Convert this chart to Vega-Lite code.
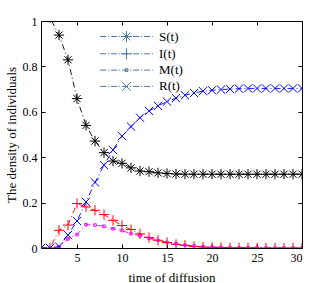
{
  "$schema": "https://vega.github.io/schema/vega-lite/v6.json",
  "width": 261,
  "height": 227,
  "autosize": {"type": "none"},
  "padding": {"left": 41, "top": 21, "right": 29, "bottom": 35},
  "background": "white",
  "config": {
    "font": "Liberation Serif",
    "view": {"stroke": "black", "strokeWidth": 1},
    "axis": {
      "domainColor": "black",
      "tickColor": "black",
      "tickSize": -4,
      "labelColor": "black",
      "titleColor": "black",
      "labelFont": "Liberation Serif",
      "titleFont": "Liberation Serif",
      "labelFontSize": 12,
      "titleFontSize": 13,
      "titleFontWeight": "normal",
      "grid": false
    },
    "legend": {
      "labelFont": "Liberation Serif",
      "labelFontSize": 13,
      "labelColor": "black"
    }
  },
  "data": {
    "values": [
      {"t": 1, "S": 1.03, "I": 0, "M": 0, "R": 0},
      {"t": 2, "S": 1.015, "I": 0, "M": 0, "R": 0},
      {"t": 3, "S": 0.938, "I": 0.078, "M": 0.005, "R": 0.007},
      {"t": 4, "S": 0.829, "I": 0.101, "M": 0.04, "R": 0.057},
      {"t": 5, "S": 0.658, "I": 0.196, "M": 0.059, "R": 0.119},
      {"t": 6, "S": 0.54, "I": 0.181, "M": 0.103, "R": 0.203},
      {"t": 7, "S": 0.471, "I": 0.166, "M": 0.101, "R": 0.289},
      {"t": 8, "S": 0.42, "I": 0.147, "M": 0.096, "R": 0.365},
      {"t": 9, "S": 0.383, "I": 0.122, "M": 0.085, "R": 0.432},
      {"t": 10, "S": 0.373, "I": 0.099, "M": 0.077, "R": 0.493},
      {"t": 11, "S": 0.353, "I": 0.081, "M": 0.063, "R": 0.535},
      {"t": 12, "S": 0.339, "I": 0.062, "M": 0.054, "R": 0.574},
      {"t": 13, "S": 0.336, "I": 0.046, "M": 0.043, "R": 0.604},
      {"t": 14, "S": 0.331, "I": 0.034, "M": 0.034, "R": 0.626},
      {"t": 15, "S": 0.328, "I": 0.024, "M": 0.025, "R": 0.645},
      {"t": 16, "S": 0.326, "I": 0.016, "M": 0.019, "R": 0.66},
      {"t": 17, "S": 0.325, "I": 0.012, "M": 0.013, "R": 0.673},
      {"t": 18, "S": 0.325, "I": 0.007, "M": 0.009, "R": 0.683},
      {"t": 19, "S": 0.325, "I": 0.004, "M": 0.006, "R": 0.691},
      {"t": 20, "S": 0.325, "I": 0.003, "M": 0.004, "R": 0.695},
      {"t": 21, "S": 0.325, "I": 0.002, "M": 0.003, "R": 0.698},
      {"t": 22, "S": 0.325, "I": 0.001, "M": 0.002, "R": 0.7},
      {"t": 23, "S": 0.325, "I": 0.001, "M": 0.001, "R": 0.702},
      {"t": 24, "S": 0.325, "I": 0.001, "M": 0.001, "R": 0.703},
      {"t": 25, "S": 0.325, "I": 0.0, "M": 0.001, "R": 0.703},
      {"t": 26, "S": 0.325, "I": 0.0, "M": 0.0, "R": 0.703},
      {"t": 27, "S": 0.325, "I": 0.0, "M": 0.0, "R": 0.703},
      {"t": 28, "S": 0.325, "I": 0.0, "M": 0.0, "R": 0.703},
      {"t": 29, "S": 0.325, "I": 0.0, "M": 0.0, "R": 0.703},
      {"t": 30, "S": 0.325, "I": 0.0, "M": 0.0, "R": 0.703}
    ]
  },
  "transform": [{"fold": ["S", "I", "M", "R"], "as": ["series", "value"]}],
  "resolve": {
    "axis": {"x": "independent", "y": "independent"},
    "scale": {"shape": "independent"},
    "legend": {"shape": "independent"}
  },
  "layer": [
    {
      "mark": {"type": "line", "strokeDash": [6, 3, 1, 3], "strokeWidth": 0.9, "clip": true},
      "encoding": {
        "x": {
          "field": "t", "type": "quantitative",
          "scale": {"domain": [1, 30], "nice": false},
          "axis": {"values": [5, 10, 15, 20, 25, 30], "title": "time of diffusion", "labelPadding": 8, "titlePadding": 8, "domain": false}
        },
        "y": {
          "field": "value", "type": "quantitative",
          "scale": {"domain": [0, 1], "nice": false},
          "axis": {"values": [0, 0.2, 0.4, 0.6, 0.8, 1], "format": "~g", "title": "The density of individuals", "labelPadding": 8, "titlePadding": 4, "domain": false}
        },
        "color": {
          "field": "series", "type": "nominal",
          "scale": {"domain": ["S", "I", "M", "R"], "range": ["#000000", "#ff0000", "#ff00ff", "#0000ff"]},
          "legend": null
        },
        "detail": {"field": "series"}
      }
    },
    {
      "mark": {"type": "point", "filled": false, "size": 105, "strokeWidth": 1, "opacity": 1, "clip": true},
      "encoding": {
        "x": {"field": "t", "type": "quantitative", "axis": null},
        "y": {"field": "value", "type": "quantitative", "axis": null},
        "color": {"field": "series", "type": "nominal", "legend": null},
        "shape": {
          "field": "series", "type": "nominal",
          "scale": {
            "domain": ["S", "I", "M", "R"],
            "range": [
              "M-1,0H1M0,-1V1M-0.7,-0.7L0.7,0.7M-0.7,0.7L0.7,-0.7",
              "M-1,0H1M0,-1V1",
              "M-0.25,-0.25H0.25V0.25H-0.25Z",
              "M-0.8,-0.8L0.8,0.8M-0.8,0.8L0.8,-0.8"
            ]
          },
          "legend": null
        }
      }
    },
    {
      "mark": {"type": "point", "filled": false, "size": 100, "opacity": 0},
      "encoding": {
        "x": {"field": "t", "type": "quantitative", "axis": {"orient": "top", "values": [5, 10, 15, 20, 25, 30], "labels": false, "title": null, "domain": false}},
        "y": {"field": "value", "type": "quantitative", "axis": {"orient": "right", "values": [0, 0.2, 0.4, 0.6, 0.8, 1], "labels": false, "title": null, "domain": false}},
        "shape": {
          "field": "series", "type": "nominal",
          "scale": {
            "domain": ["S", "I", "M", "R"],
            "range": [
              "M-4.8,0H-3.7M-3.35,0H-3.15M-2.8,0H-1.7M-1.35,0H-1.15M-0.8,0H0.3M0.65,0H0.85M1.2,0H2.3M2.65,0H2.85M3.2,0H4.3M4.65,0H4.8M-1,0H1M0,-1V1M-0.7,-0.7L0.7,0.7M-0.7,0.7L0.7,-0.7",
              "M-4.8,0H-3.7M-3.35,0H-3.15M-2.8,0H-1.7M-1.35,0H-1.15M-0.8,0H0.3M0.65,0H0.85M1.2,0H2.3M2.65,0H2.85M3.2,0H4.3M4.65,0H4.8M-1,0H1M0,-1V1",
              "M-4.8,0H-3.7M-3.35,0H-3.15M-2.8,0H-1.7M-1.35,0H-1.15M-0.8,0H0.3M0.65,0H0.85M1.2,0H2.3M2.65,0H2.85M3.2,0H4.3M4.65,0H4.8M-0.25,-0.25H0.25V0.25H-0.25Z",
              "M-4.8,0H-3.7M-3.35,0H-3.15M-2.8,0H-1.7M-1.35,0H-1.15M-0.8,0H0.3M0.65,0H0.85M1.2,0H2.3M2.65,0H2.85M3.2,0H4.3M4.65,0H4.8M-0.8,-0.8L0.8,0.8M-0.8,0.8L0.8,-0.8"
            ]
          },
          "legend": {
            "orient": "none",
            "legendX": 79,
            "legendY": 9,
            "title": null,
            "symbolSize": 121,
            "symbolOpacity": 1,
            "symbolStrokeWidth": 1,
            "symbolFillColor": "transparent",
            "rowPadding": 2.3,
            "labelOffset": 26,
            "labelExpr": "datum.label + '(t)'",
            "encode": {
              "symbols": {
                "stroke": {"value": {"expr": "scale('color', datum.value)"}}
              }
            }
          }
        }
      }
    }
  ]
}
